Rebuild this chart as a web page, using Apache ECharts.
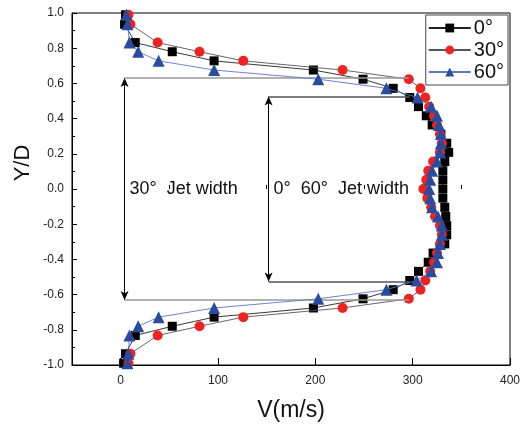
<!DOCTYPE html>
<html>
<head>
<meta charset="utf-8">
<script src="https://cdn.jsdelivr.net/npm/echarts@6/dist/echarts.min.js"></script>
<style>html,body{margin:0;padding:0;background:#fff}#c{width:532px;height:427px}</style>
</head>
<body>
<div id="c"></div>
<script>
// Y/D positions (shared by all series)
const yLevels = [0.99, 0.936, 0.832, 0.78, 0.728, 0.676, 0.624, 0.572, 0.52, 0.468, 0.416, 0.364, 0.312, 0.26, 0.208, 0.156, 0.104, 0.052, 0,
  -0.052, -0.104, -0.156, -0.208, -0.26, -0.312, -0.364, -0.416, -0.468, -0.52, -0.572, -0.624, -0.676, -0.728, -0.78, -0.832, -0.936, -0.99];
// Velocity V (m/s)
const v0 = [5, 4, 15, 53, 96, 198, 249, 280, 297, 306, 314, 320, 329, 335, 337, 333, 331, 331, 331,
  331, 333, 334, 335, 335, 333, 321, 316, 306, 297, 280, 249, 198, 96, 53, 15, 5, 3];
const v30 = [8, 10, 38, 81, 126, 228, 296, 308, 313, 317, 322, 325, 328, 330, 328, 321, 316, 314, 311,
  315, 319, 323, 328, 330, 328, 325, 322, 318, 313, 308, 296, 228, 126, 81, 38, 10, 8];
const v60 = [6, 7, 9, 18, 39, 96, 203, 273, 305, 319, 325, 327, 329, 329, 328, 325, 320, 318, 317,
  318, 320, 326, 330, 330, 328, 326, 325, 319, 304, 273, 203, 96, 39, 18, 9, 8, 7];
const seriesNames = ['0°', '30°', '60°'];
const xTickLabels = [0, 100, 200, 300, 400];
const xMinorTicks = [50, 150, 250, 350];

// Jet width annotations (data coordinates)
const jet30 = { x: 4, yTop: 0.63, yBot: -0.63, xEnd: 296, text: '30°  Jet width', textX: 9 };
const jet060 = { x: 152, yTop: 0.525, yBot: -0.525, xEnd: 297, text: '0°  60°  Jet width', textX: 157 };

const pair = (vs) => vs.map((v, i) => [v, yLevels[i]]);

const chart = echarts.init(document.getElementById('c'), null, { renderer: 'canvas' });
const font = 'Liberation Sans';

function guide(j, col) {
  return [
    [{ coord: [j.x, j.yTop], symbol: 'arrow', symbolSize: [6, 9], lineStyle: { color: '#000', width: 1, type: 'solid' } },
     { coord: [j.x, j.yBot], symbol: 'arrow', symbolSize: [6, 9] }],
    [{ coord: [j.x, j.yTop], symbol: 'none', lineStyle: { color: col, width: 1.5, type: 'solid' } }, { coord: [j.xEnd, j.yTop], symbol: 'none' }],
    [{ coord: [j.x, j.yBot], symbol: 'none', lineStyle: { color: col, width: 1.5, type: 'solid' } }, { coord: [j.xEnd, j.yBot], symbol: 'none' }]
  ];
}

chart.setOption({
  animation: false,
  textStyle: { fontFamily: font },
  grid: { left: 72, right: 22, top: 13, bottom: 60.5, show: true, borderColor: '#000', borderWidth: 1, backgroundColor: 'transparent' },
  legend: {
    data: seriesNames,
    orient: 'vertical',
    right: 24, top: 15,
    borderColor: '#444', borderWidth: 1,
    padding: [3, 4, 3, 2],
    itemGap: 2,
    itemWidth: 42, itemHeight: 11,
    textStyle: { fontSize: 20, color: '#111', fontFamily: font, padding: [0, 0, 0, -2] }
  },
  xAxis: [{
    type: 'value', min: -50, max: 400,
    axisLine: { show: true, onZero: false, lineStyle: { color: '#000', width: 1 } },
    axisTick: { show: true, inside: true, length: 7, customValues: xTickLabels, lineStyle: { color: '#000' } },
    axisLabel: { customValues: xTickLabels, fontSize: 12, color: '#222', margin: 10 },
    splitLine: { show: false },
    name: 'V(m/s)', nameLocation: 'middle', nameGap: 34,
    nameTextStyle: { fontSize: 23, color: '#111' }
  }, {
    type: 'value', min: -50, max: 400, position: 'bottom',
    axisLine: { show: false },
    axisTick: { show: true, inside: true, length: 4, customValues: xMinorTicks, lineStyle: { color: '#000' } },
    axisLabel: { show: false },
    splitLine: { show: false }
  }],
  yAxis: {
    type: 'value', min: -1, max: 1, interval: 0.2,
    axisLine: { show: true, onZero: false, lineStyle: { color: '#000', width: 1 } },
    axisTick: { show: true, inside: true, length: 5, lineStyle: { color: '#000' } },
    minorTick: { show: true, splitNumber: 2, length: 3, lineStyle: { color: '#000' } },
    axisLabel: { fontSize: 12, color: '#222', margin: 8, formatter: (v) => v.toFixed(1) },
    splitLine: { show: false }
  },
  series: [
    {
      name: seriesNames[0], type: 'line', data: pair(v0),
      symbol: 'rect', symbolSize: 9,
      itemStyle: { color: '#000' },
      lineStyle: { color: '#222', width: 0.9 },
      z: 3
    },
    {
      name: seriesNames[1], type: 'line', data: pair(v30),
      symbol: 'circle', symbolSize: 10,
      itemStyle: { color: '#ee2222' },
      lineStyle: { color: '#555', width: 0.9 },
      z: 4
    },
    {
      name: seriesNames[2], type: 'line', data: pair(v60),
      symbol: 'triangle', symbolSize: 12,
      itemStyle: { color: '#2b4c9e' },
      lineStyle: { color: '#5a78c8', width: 0.9 },
      z: 5
    },
    {
      name: 'guides', type: 'line', data: [], z: 2,
      markLine: {
        silent: true, animation: false,
        label: { show: false },
        symbol: ['none', 'none'],
        lineStyle: { type: 'solid' },
        data: guide(jet30, '#999').concat(guide(jet060, '#555'))
      }
    }
  ]
});

// Annotation texts and Y-axis title placed via the chart's own coordinate conversion
const p1 = chart.convertToPixel({ gridIndex: 0 }, [jet30.textX, 0]);
const p2 = chart.convertToPixel({ gridIndex: 0 }, [jet060.textX, 0]);
chart.setOption({
  graphic: [
    { type: 'text', x: p1[0], y: p1[1], style: { text: jet30.text, fontSize: 18, fill: '#111', fontFamily: font, verticalAlign: 'middle', align: 'left' }, z: 10 },
    { type: 'text', x: p2[0], y: p2[1], style: { text: jet060.text, fontSize: 18, fill: '#111', fontFamily: font, verticalAlign: 'middle', align: 'left' }, z: 10 },
    { type: 'text', x: 23, y: 163, rotation: Math.PI / 2, style: { text: 'Y/D', fontSize: 22, fill: '#111', fontFamily: font, align: 'center', verticalAlign: 'middle' } }
  ]
});
</script>
</body>
</html>
